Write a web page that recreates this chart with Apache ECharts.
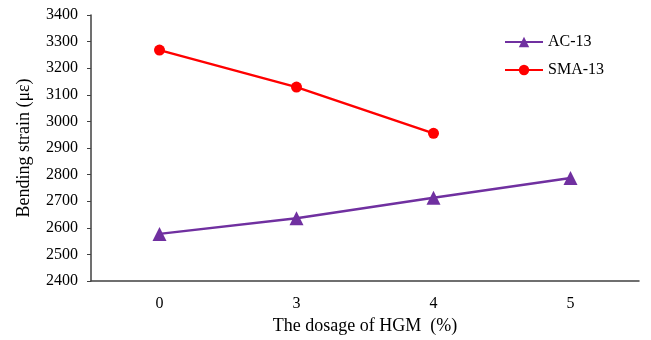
<!DOCTYPE html>
<html>
<head>
<meta charset="utf-8">
<script src="https://cdn.jsdelivr.net/npm/echarts@6/dist/echarts.min.js"></script>
<style>
  html, body { margin: 0; padding: 0; background: #fff; }
  #main { width: 651px; height: 340px; }
</style>
</head>
<body>
<div id="main"></div>
<script>
"use strict";

// HGM dosage vs bending strain
const dosage = ['0', '3', '4', '5'];
const ac13 = [2577, 2636, 2713, 2787];
const sma13 = [3268, 3129, 2955, null];
const yTicks = { min: 2400, max: 3400, step: 100 };

let myChart = echarts.init(document.getElementById('main'));

const font = 'Liberation Serif';
const axisColor = '#404040';

let option = {
  animation: false,
  textStyle: { fontFamily: font },
  grid: { left: 91, right: 12, top: 15, bottom: 59 },
  legend: {
    orient: 'vertical',
    left: 499,
    top: 29,
    itemWidth: 38,
    itemHeight: 13,
    itemGap: 12,
    textStyle: { fontFamily: font, fontSize: 16, color: '#000' },
    data: ['AC-13', 'SMA-13'],
  },
  xAxis: {
    type: 'category',
    data: dosage,
    name: 'The dosage of HGM  (%)',
    nameLocation: 'middle',
    nameGap: 36,
    nameTextStyle: { fontFamily: font, fontSize: 18, color: '#000' },
    axisLine: { lineStyle: { color: axisColor, width: 1.5 } },
    axisTick: { alignWithLabel: true, inside: true, length: 4, lineStyle: { color: axisColor } },
    axisLabel: { fontFamily: font, fontSize: 16, color: '#000', margin: 15 },
  },
  yAxis: {
    type: 'value',
    min: yTicks.min,
    max: yTicks.max,
    interval: yTicks.step,
    name: 'Bending strain (με)',
    nameLocation: 'middle',
    nameGap: 58,
    nameTextStyle: { fontFamily: font, fontSize: 18, color: '#000' },
    axisLine: { show: true, lineStyle: { color: axisColor, width: 1.5 } },
    axisTick: { show: true, length: 4, lineStyle: { color: axisColor } },
    axisLabel: { fontFamily: font, fontSize: 16, color: '#000', margin: 13, formatter: (v) => String(v) },
    splitLine: { show: false },
  },
  series: [
    {
      name: 'AC-13',
      type: 'line',
      data: ac13,
      symbol: 'triangle',
      symbolSize: 14,
      itemStyle: { color: '#7030A0' },
      lineStyle: { color: '#7030A0', width: 2.4 },
    },
    {
      name: 'SMA-13',
      type: 'line',
      data: sma13,
      symbol: 'circle',
      symbolSize: 11,
      itemStyle: { color: '#FF0000' },
      lineStyle: { color: '#FF0000', width: 2.4 },
    },
  ],
};

myChart.setOption(option);
</script>
</body>
</html>
